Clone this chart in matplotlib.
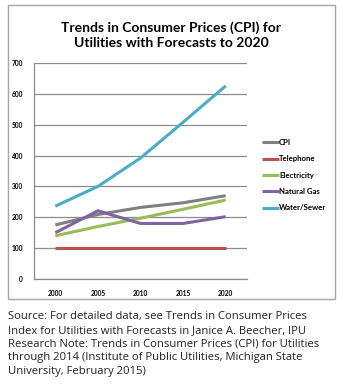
import matplotlib
matplotlib.use("Agg")
import matplotlib.pyplot as plt
from matplotlib.patches import Rectangle

years = ["2000", "2005", "2010", "2015", "2020"]
cpi = [175, 209, 232, 247, 270]
telephone = [100, 100, 100, 100, 100]
electricity = [140, 170, 197, 226, 256]
natural_gas = [150, 221, 180, 180, 202]
water_sewer = [236, 300, 392, 508, 626]

series_names = ["CPI", "Telephone", "Electricity", "Natural Gas", "Water/Sewer"]
series_values = [cpi, telephone, electricity, natural_gas, water_sewer]
series_colours = ["#808080", "#c0504d", "#9bbb59", "#8064a2", "#4bacc6"]

yticks = [0, 100, 200, 300, 400, 500, 600, 700]

title = "Trends in Consumer Prices (CPI) for\nUtilities with Forecasts to 2020"
source = ("Source: For detailed data, see Trends in Consumer Prices\n"
          "Index for Utilities with Forecasts in Janice A. Beecher, IPU\n"
          "Research Note: Trends in Consumer Prices (CPI) for Utilities\n"
          "through 2014 (Institute of Public Utilities, Michigan State\n"
          "University, February 2015)")

W, H = 343, 388
fig = plt.figure(figsize=(W / 100, H / 100), dpi=100)
fig.patch.set_facecolor("white")

# outer chart frame
fig.patches.append(Rectangle((8 / W, 1 - 299 / H), 327 / W, 294 / H,
                             transform=fig.transFigure, fill=False,
                             edgecolor="#a6a6a6", linewidth=1.0))

ax = fig.add_axes([34 / W, 1 - 279 / H, 213 / W, 216 / H])
x = list(range(len(years)))
for name, vals, col in zip(series_names, series_values, series_colours):
    ax.plot(x, vals, color=col, linewidth=2.2, label=name, solid_capstyle="butt")

ax.set_xlim(-0.5, len(years) - 0.5)
ax.set_ylim(0, 700)
ax.set_yticks(yticks)
ax.set_xticks(x)
ax.set_xticklabels(years)
ax.grid(axis="y", color="#8c8c8c", linewidth=0.9)
ax.set_axisbelow(True)
for side in ["top", "right"]:
    ax.spines[side].set_visible(False)
for side in ["left", "bottom"]:
    ax.spines[side].set_color("#8c8c8c")
    ax.spines[side].set_linewidth(0.9)
ax.tick_params(length=0, labelsize=4.8, pad=8)
for lbl in ax.get_xticklabels() + ax.get_yticklabels():
    lbl.set_fontweight("bold")
    lbl.set_family("Lato")

leg = ax.legend(loc="upper left", bbox_to_anchor=(262 / W, 1 - 139 / H),
                bbox_transform=fig.transFigure, frameon=False,
                handlelength=2.2, handletextpad=0.0, labelspacing=1.2,
                prop={"family": "Lato", "weight": "bold", "size": 5.6},
                borderaxespad=0, borderpad=0)

fig.text(171 / W, 1 - 35 / H, title, ha="center", va="center",
         fontsize=10, fontweight="bold", family="Lato", linespacing=1.35)

fig.text(8 / W, 1 - 311 / H, source, ha="left", va="top",
         fontsize=8.1, family="Open Sans", linespacing=1.34, color="#222222")

fig.savefig("out.png", dpi=100)
